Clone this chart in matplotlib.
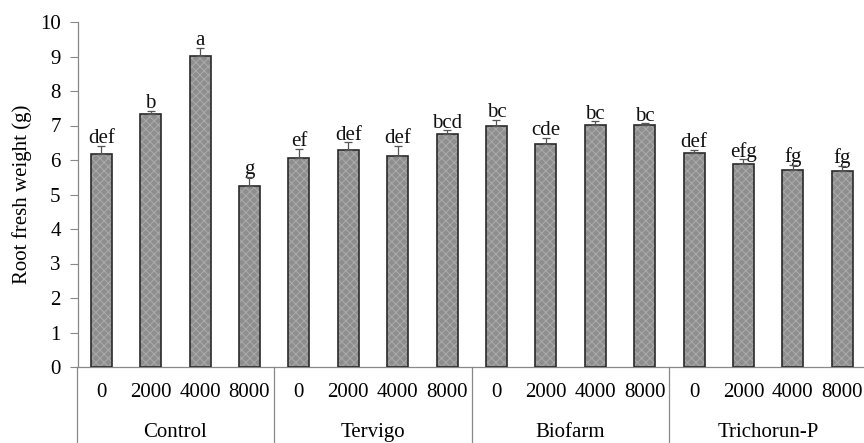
import numpy as np
import matplotlib
matplotlib.use('Agg')
import matplotlib.pyplot as plt
import matplotlib.transforms as mtransforms

# data
groups = ['Control', 'Tervigo', 'Biofarm', 'Trichorun-P']
doses = ['0', '2000', '4000', '8000']
means = [6.17, 7.33, 9.01, 5.25,
         6.07, 6.29, 6.12, 6.74,
         6.99, 6.46, 7.02, 7.02,
         6.19, 5.87, 5.71, 5.68]
errs = [0.25, 0.10, 0.25, 0.27,
        0.25, 0.22, 0.28, 0.12,
        0.17, 0.18, 0.10, 0.04,
        0.10, 0.15, 0.15, 0.14]
letters = ['def', 'b', 'a', 'g',
           'ef', 'def', 'def', 'bcd',
           'bc', 'cde', 'bc', 'bc',
           'def', 'efg', 'fg', 'fg']

plt.rcParams['font.family'] = ['Liberation Serif', 'DejaVu Serif']
plt.rcParams['hatch.linewidth'] = 0.7
fs = 15

fig = plt.figure(figsize=(8.64, 4.43), dpi=100)
ax = fig.add_axes([78 / 864, 1 - 367 / 443, 1 - 78 / 864, 345 / 443])

x = np.arange(len(means))
w = 0.425
# hatched fill, then a dark outline on top
ax.bar(x, means, width=w, color='#8e8e8e', edgecolor='#ababab', hatch='xxxx', linewidth=0, zorder=2)
ax.bar(x, means, width=w, fill=False, edgecolor='#2a2a2a', linewidth=1.2, zorder=3)
ax.errorbar(x, means, yerr=[np.zeros(len(errs)), errs], fmt='none', ecolor='#555555',
            elinewidth=0.9, capsize=3, capthick=0.9, zorder=4)

for i in range(len(means)):
    ax.annotate(letters[i], (x[i], means[i] + errs[i]), xytext=(0, 2), textcoords='offset points',
                ha='center', va='baseline', fontsize=fs, color='#111111')

ax.set_xlim(-0.47, 15.44)
ax.set_ylim(0, 10)
ax.set_yticks(np.arange(0, 11, 1))
ax.tick_params(axis='y', direction='out', length=5.5, width=0.8, pad=7, labelsize=fs, color='#888888')
ax.set_xticks([])
ax.set_ylabel('Root fresh weight (g)', fontsize=fs, labelpad=6)

for s in ['top', 'right']:
    ax.spines[s].set_visible(False)
for s in ['left', 'bottom']:
    ax.spines[s].set_color('#888888')
    ax.spines[s].set_linewidth(0.9)

trans = mtransforms.blended_transform_factory(ax.transData, ax.transAxes)
for i in range(len(means)):
    ax.text(x[i], -0.075, doses[i % 4], transform=trans, ha='center', va='center', fontsize=fs)
for g in range(len(groups)):
    ax.text(4 * g + 1.5, -0.19, groups[g], transform=trans, ha='center', va='center', fontsize=fs)
    ax.plot([4 * g - 0.5, 4 * g - 0.5], [0, -0.3], transform=trans, color='#888888',
            linewidth=0.9, clip_on=False)
ax.plot([15.5, 15.5], [0, -0.3], transform=trans, color='#888888', linewidth=0.9, clip_on=False)

fig.savefig('out.png', dpi=100)
